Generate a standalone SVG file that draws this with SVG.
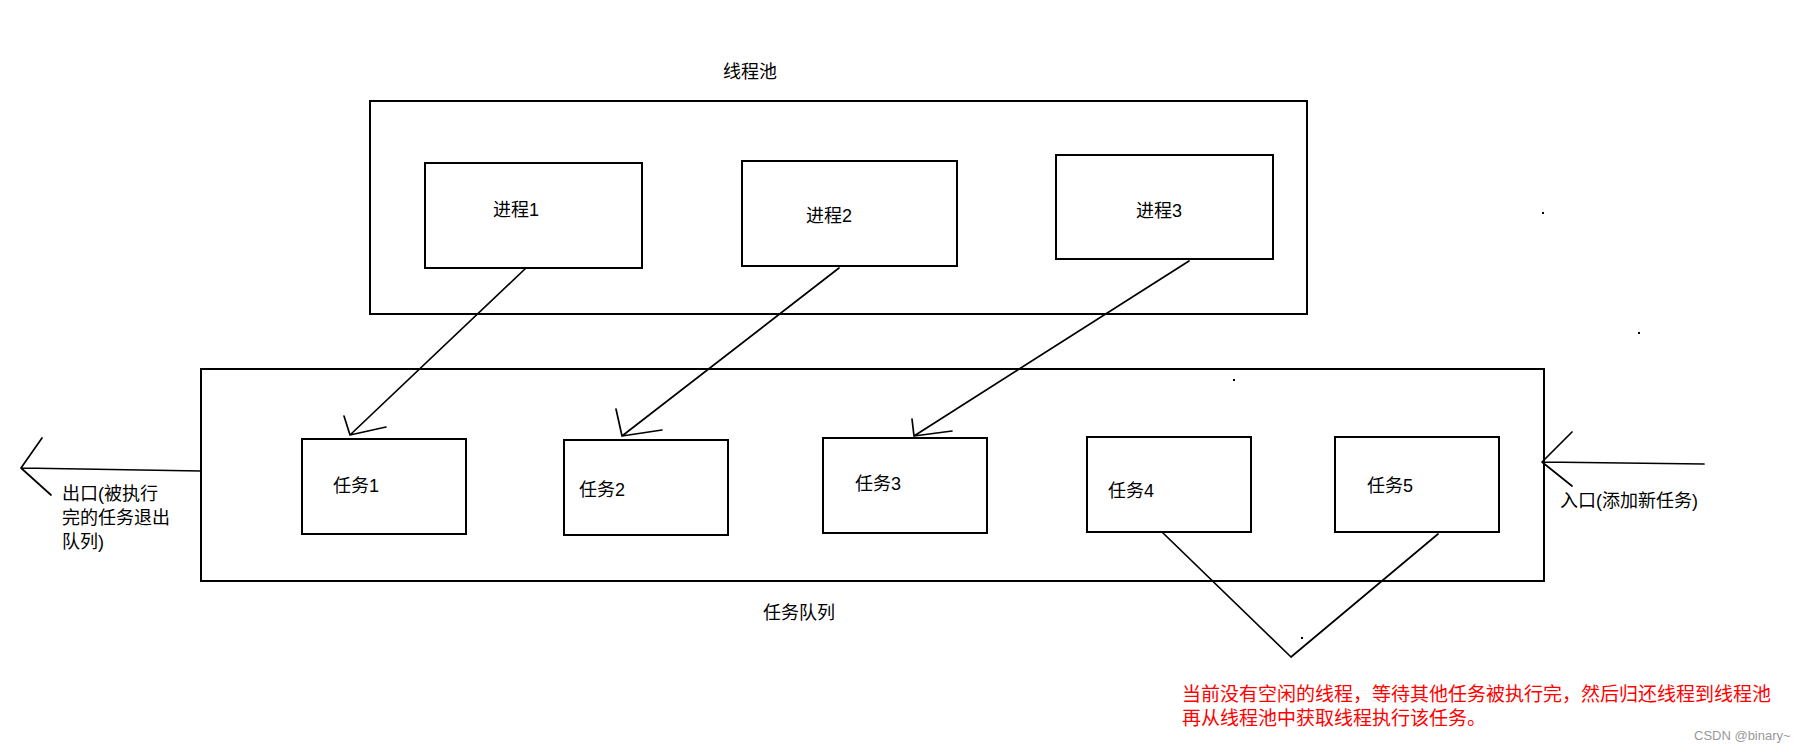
<svg xmlns="http://www.w3.org/2000/svg" width="1798" height="752" viewBox="0 0 1798 752">
<style>
.box{fill:none;stroke:#000;stroke-width:2}
.ln{fill:none;stroke:#000;stroke-width:1.7;stroke-linecap:round;stroke-linejoin:round}
.t{font-family:"Liberation Sans","Noto Sans CJK SC",sans-serif;font-size:18px;fill:#000}
.r{font-family:"Liberation Sans","Noto Sans CJK SC",sans-serif;font-size:19px;fill:#f00}
.w{font-family:"Liberation Sans",sans-serif;font-size:13px;fill:#999}
.dot{fill:#000}
</style>
<rect width="1798" height="752" fill="#fff"/>
<g id="pool">
<rect class="box" x="370" y="101" width="937" height="213"/>
<text class="t" x="723" y="78">线程池</text>
</g>
<g id="queue">
<rect class="box" x="201" y="369" width="1343" height="212"/>
<text class="t" x="763" y="619">任务队列</text>
</g>
<g id="p1"><rect class="box" x="425" y="163" width="217" height="105"/><text class="t" x="493" y="216">进程1</text></g>
<g id="p2"><rect class="box" x="742" y="161" width="215" height="105"/><text class="t" x="806" y="222">进程2</text></g>
<g id="p3"><rect class="box" x="1056" y="155" width="217" height="104"/><text class="t" x="1136" y="217">进程3</text></g>
<g id="t1"><rect class="box" x="302" y="439" width="164" height="95"/><text class="t" x="333" y="492">任务1</text></g>
<g id="t2"><rect class="box" x="564" y="440" width="164" height="95"/><text class="t" x="579" y="496">任务2</text></g>
<g id="t3"><rect class="box" x="823" y="438" width="164" height="95"/><text class="t" x="855" y="490">任务3</text></g>
<g id="t4"><rect class="box" x="1087" y="437" width="164" height="95"/><text class="t" x="1108" y="497">任务4</text></g>
<g id="t5"><rect class="box" x="1335" y="437" width="164" height="95"/><text class="t" x="1367" y="492">任务5</text></g>
<g id="exit-label">
<text class="t" x="62" y="500" font-size="18.5">出口(被执行</text>
<text class="t" x="62" y="524" font-size="18.5">完的任务退出</text>
<text class="t" x="62" y="548" font-size="18.5">队列)</text>
</g>
<g id="entry-label"><text class="t" x="1560" y="507" font-size="18.5">入口(添加新任务)</text></g>
<g id="note">
<text class="r" x="1182" y="701">当前没有空闲的线程，等待其他任务被执行完，然后归还线程到线程池</text>
<text class="r" x="1182" y="725">再从线程池中获取线程执行该任务。</text>
</g>
<g id="connectors">
<path class="ln" d="M526,268 L350,435 M344,416 L350,435 L386,427"/>
<path class="ln" d="M839,268 L622,436 M616,409 L622,436 L662,430"/>
<path class="ln" d="M1189,261 L914,436 M912,419 L914,436 L952,431"/>
<path class="ln" d="M201,471 L21,468 M42,438 L21,468 L51,495"/>
<path class="ln" d="M1704,464 L1542,462 M1572,432 L1542,462 L1572,486"/>
<path class="ln" d="M1163,533 L1291,657 L1438,534"/>
</g>
<g id="dots">
<rect class="dot" x="1542" y="212" width="2" height="2"/>
<rect class="dot" x="1638" y="332" width="2" height="2"/>
<rect class="dot" x="1233" y="379" width="2" height="2"/>
<rect class="dot" x="1301" y="637" width="2" height="2"/>
</g>
<text class="w" x="1694" y="740">CSDN @binary~</text>
</svg>
